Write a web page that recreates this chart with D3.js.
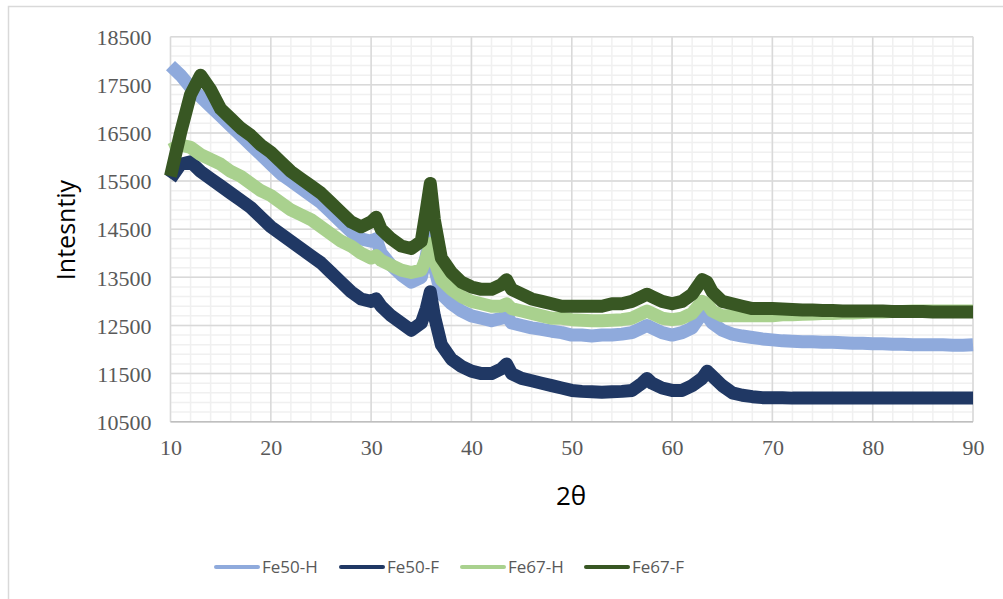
<!DOCTYPE html>
<html><head><meta charset="utf-8">
<script src="https://cdn.jsdelivr.net/npm/d3@7"></script>
<style>html,body{margin:0;padding:0;background:#fff;}svg{display:block;}</style>
</head><body>
<svg id="chart" width="1003" height="599"></svg>
<script>
// ---- data ----
const angles = [10,11,12,13,14,15,16,17,18,19,20,21,22,23,24,25,26,27,28,29,30,30.5,31,32,33,34,35,35.5,35.9,36.3,37,38,39,40,41,42,43,43.5,44,45,46,47,48,49,50,51,52,53,54,55,56,57,57.5,58,59,60,61,62,63,63.5,64,65,66,67,68,69,70,71,72,73,74,75,76,77,78,79,80,81,82,83,84,85,86,87,88,89,90];

const fe50H = [17900,17700,17450,17250,17050,16850,16650,16450,16250,16050,15850,15650,15500,15350,15200,15050,14850,14650,14450,14300,14250,14300,14000,13750,13550,13400,13500,13950,14400,13700,13150,12950,12800,12700,12650,12600,12650,12700,12550,12500,12450,12420,12380,12350,12300,12300,12280,12300,12300,12320,12350,12450,12500,12450,12350,12300,12350,12450,12750,12700,12550,12400,12320,12280,12250,12220,12200,12180,12170,12160,12160,12150,12150,12140,12130,12130,12120,12120,12110,12110,12100,12100,12100,12100,12090,12090,12100];
const fe50F = [15550,15850,15900,15700,15550,15400,15250,15100,14950,14750,14550,14400,14250,14100,13950,13800,13600,13400,13200,13050,13000,13050,12900,12700,12550,12400,12550,12850,13200,12700,12100,11800,11650,11550,11500,11500,11600,11700,11500,11400,11350,11300,11250,11200,11150,11130,11120,11110,11120,11130,11150,11300,11400,11300,11200,11150,11150,11250,11400,11550,11450,11250,11100,11050,11020,11000,11000,11000,10990,10990,10990,10990,10990,10990,10990,10990,10990,10990,10990,10990,10990,10990,10990,10990,10990,10990,10990];
const fe67H = [16150,16250,16200,16050,15950,15850,15700,15600,15450,15300,15200,15050,14900,14800,14700,14550,14400,14250,14150,14000,13900,13950,13850,13750,13650,13600,13650,13900,14200,13850,13450,13250,13100,13000,12950,12900,12900,12950,12850,12800,12750,12700,12650,12650,12620,12610,12600,12600,12610,12620,12650,12750,12800,12750,12650,12620,12650,12750,13000,12950,12800,12700,12700,12700,12700,12700,12700,12720,12720,12730,12740,12750,12750,12760,12760,12770,12780,12780,12790,12790,12800,12800,12800,12800,12800,12800,12800];
const fe67F = [15600,16500,17300,17700,17400,17000,16800,16600,16450,16250,16100,15900,15700,15550,15400,15250,15050,14850,14650,14550,14650,14750,14500,14300,14150,14100,14250,14900,15450,14700,13900,13600,13400,13300,13250,13250,13350,13450,13250,13150,13050,13000,12950,12900,12900,12900,12900,12900,12950,12950,13000,13100,13150,13100,13000,12950,13000,13150,13450,13400,13200,13000,12950,12900,12850,12850,12850,12840,12830,12820,12820,12810,12810,12800,12800,12800,12800,12800,12790,12790,12790,12790,12780,12780,12780,12780,12780];

const seriesNames = ["Fe50-H","Fe50-F","Fe67-H","Fe67-F"];
const seriesColors = ["#8faadc","#203864","#a9d18e","#385723"];
const seriesValues = [fe50H, fe50F, fe67H, fe67F];

const xTicks = [10,20,30,40,50,60,70,80,90];
const yTicks = [10500,11500,12500,13500,14500,15500,16500,17500,18500];

// ---- layout ----
const svg = d3.select("#chart");
const L = 170.5, R = 973, T = 36.7, B = 421.7;
const x = d3.scaleLinear().domain([10,90]).range([L,R]);
const y = d3.scaleLinear().domain([10500,18500]).range([B,T]);

// outer chart border
svg.append("rect").attr("x",8.5).attr("y",6.5).attr("width",1010).attr("height",620)
  .attr("fill","none").attr("stroke","#d9d9d9").attr("stroke-width",1.5);

// minor gridlines
const g = svg.append("g");
d3.range(10,90.001,2).forEach(v=>{
  g.append("line").attr("x1",x(v)).attr("x2",x(v)).attr("y1",T).attr("y2",B)
   .attr("stroke","#f0f0f0").attr("stroke-width",1.5);
});
d3.range(10500,18500.1,200).forEach(v=>{
  g.append("line").attr("x1",L).attr("x2",R).attr("y1",y(v)).attr("y2",y(v))
   .attr("stroke","#f0f0f0").attr("stroke-width",1.5);
});
// major gridlines
xTicks.forEach(v=>{
  g.append("line").attr("x1",x(v)).attr("x2",x(v)).attr("y1",T).attr("y2",B)
   .attr("stroke","#d9d9d9").attr("stroke-width",1.5);
});
yTicks.forEach(v=>{
  g.append("line").attr("x1",L).attr("x2",R).attr("y1",y(v)).attr("y2",y(v))
   .attr("stroke","#d9d9d9").attr("stroke-width",1.5);
});
g.append("line").attr("x1",L).attr("x2",R).attr("y1",B).attr("y2",B)
 .attr("stroke","#bfbfbf").attr("stroke-width",1.5);

// axes (text only) via d3 axes
const xAxis = d3.axisBottom(x).tickValues(xTicks).tickSize(0).tickPadding(0).tickFormat(d3.format("d"));
const xa = svg.append("g").attr("transform",`translate(0,${B+22})`).call(xAxis);
xa.select(".domain").remove();
xa.selectAll("text").attr("font-family","'Liberation Serif', 'Times New Roman', serif")
  .attr("font-size",22).attr("fill","#595959").attr("dy","0.5em");

const yAxis = d3.axisLeft(y).tickValues(yTicks).tickSize(0).tickPadding(0).tickFormat(d3.format("d"));
const ya = svg.append("g").attr("transform",`translate(${L-19},0)`).call(yAxis);
ya.select(".domain").remove();
ya.selectAll("text").attr("font-family","'Liberation Serif', 'Times New Roman', serif")
  .attr("font-size",22).attr("fill","#595959").attr("dy","0.35em");

// series
const line = d3.line().x((d,i)=>x(angles[i])).y(d=>y(d)).curve(d3.curveLinear);
seriesValues.forEach((vals,k)=>{
  svg.append("path").datum(vals).attr("d",line)
    .attr("fill","none").attr("stroke",seriesColors[k]).attr("stroke-width",13)
    .attr("stroke-linejoin","round").attr("stroke-linecap","butt");
});

// axis titles
svg.append("text").attr("x",571).attr("y",505).attr("text-anchor","middle")
  .attr("font-family","'Open Sans', 'Noto Sans', sans-serif").attr("font-size",26).attr("fill","#000")
  .text("2θ");
svg.append("text").attr("transform","translate(75,230) rotate(-90)").attr("text-anchor","middle")
  .attr("font-family","'Open Sans', 'Noto Sans', sans-serif").attr("font-size",25).attr("fill","#000")
  .text("Intesntiy");

// legend
const legX = [215,340,461,585];
const legY = 567;
seriesNames.forEach((n,k)=>{
  svg.append("line").attr("x1",legX[k]+1).attr("x2",legX[k]+43).attr("y1",legY).attr("y2",legY)
    .attr("stroke",seriesColors[k]).attr("stroke-width",4).attr("stroke-linecap","round");
  svg.append("text").attr("x",legX[k]+47).attr("y",legY).attr("dy","0.35em")
    .attr("font-family","'Open Sans', 'Noto Sans', sans-serif").attr("font-size",17).attr("fill","#595959")
    .text(n);
});
</script>
</body></html>
